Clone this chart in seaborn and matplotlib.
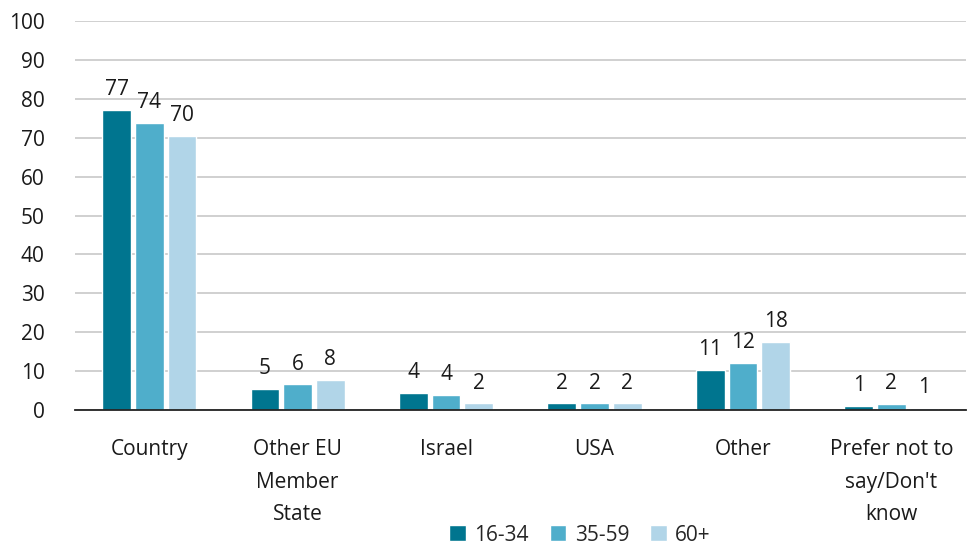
import numpy as np
import pandas as pd
import matplotlib.pyplot as plt
import seaborn as sns

# Datos
categorias = ["Country", "Other EU\nMember\nState", "Israel", "USA", "Other",
              "Prefer not to\nsay/Don't\nknow"]
grupos = ["16-34", "35-59", "60+"]
valores_16_34 = [77.1, 5.4, 4.4, 1.7, 10.4, 1.0]
valores_35_59 = [73.8, 6.6, 3.9, 1.7, 12.1, 1.5]
valores_60 = [70.5, 7.7, 1.7, 1.7, 17.5, 0.6]
etiquetas_16_34 = ["77", "5", "4", "2", "11", "1"]
etiquetas_35_59 = ["74", "6", "4", "2", "12", "2"]
etiquetas_60 = ["70", "8", "2", "2", "18", "1"]
colores = ["#00758f", "#4faecb", "#b1d5e8"]

df = pd.DataFrame({
    "categoria": categorias * 3,
    "grupo": np.repeat(grupos, len(categorias)),
    "valor": valores_16_34 + valores_35_59 + valores_60,
})

sns.set_style("white")
plt.rcParams['font.family'] = ['Open Sans', 'DejaVu Sans']

fig = plt.figure(figsize=(9.68, 5.47), dpi=100)
ax = fig.add_axes([0.0775, 0.2505, 0.92, 0.711])

sns.barplot(data=df, x="categoria", y="valor", hue="grupo", palette=colores,
            saturation=1, width=0.66, gap=0.12, ax=ax, legend=True)

for cont, etiquetas in zip(ax.containers, [etiquetas_16_34, etiquetas_35_59, etiquetas_60]):
    ax.bar_label(cont, labels=etiquetas, padding=7, fontsize=15, color="#1a1a1a")

ax.set_ylim(0, 100)
ax.set_yticks(range(0, 101, 10))
ax.yaxis.grid(True, color="#c8c8c8", linewidth=1.2)
ax.set_axisbelow(True)
for s in ["top", "right", "left"]:
    ax.spines[s].set_visible(False)
ax.spines["bottom"].set_color("#222222")
ax.spines["bottom"].set_linewidth(1.3)
ax.tick_params(axis="y", length=0, pad=22, labelsize=15, labelcolor="#1a1a1a")
ax.tick_params(axis="x", length=0, pad=21, labelsize=15, labelcolor="#1a1a1a")
for t in ax.get_xticklabels():
    t.set_linespacing(1.72)
ax.set_xlabel("")
ax.set_ylabel("")
ax.set_xlim(-0.5, 5.5)

ax.legend(loc="center", bbox_to_anchor=(0.567, -0.322), ncol=3, frameon=False,
          fontsize=15, handlelength=0.8, handleheight=0.8, handletextpad=0.4,
          columnspacing=1.0, borderaxespad=0, borderpad=0)

plt.savefig("out.png", dpi=100)
